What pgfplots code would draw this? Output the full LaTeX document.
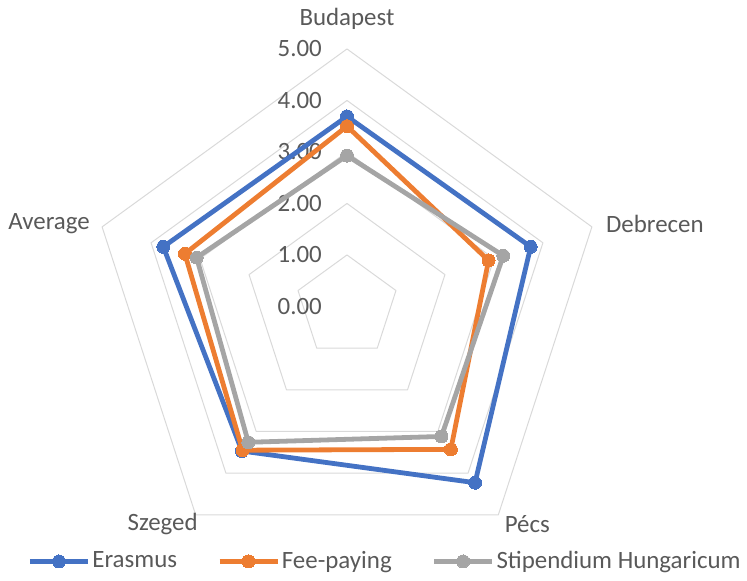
\documentclass[border=0pt]{standalone}
\usepackage{pgfplots}
\pgfplotsset{compat=1.18}
\usepgfplotslibrary{polar}
\usepackage{fontspec}
\setmainfont{Carlito}
\definecolor{eblue}{HTML}{4472C4}
\definecolor{forange}{HTML}{ED7D31}
\definecolor{sgray}{HTML}{A5A5A5}
\definecolor{gridc}{HTML}{D9D9D9}
\definecolor{txt}{HTML}{595959}
\begin{document}
\fontsize{25}{30}\selectfont
\begin{tikzpicture}
\begin{polaraxis}[
  width=515bp, height=515bp, scale only axis,
  ymin=0, ymax=5, xmin=0, xmax=360,
  hide axis, clip=false,
  legend columns=3,
  legend style={at={(axis cs:278.5,5.006)}, anchor=center, draw=none, fill=none,
    text=txt, inner sep=0pt, outer sep=0pt,
    nodes={inner sep=2pt},
    /tikz/every even column/.append style={column sep=38bp}},
  legend image code/.code={\draw[mark repeat=2,mark phase=2] plot coordinates {(0bp,0bp)(29bp,0bp)(58bp,0bp)};},
]
% grid pentagons
\addplot[gridc, line width=1bp, line join=round, forget plot] coordinates {(90,1)(18,1)(306,1)(234,1)(162,1)(90,1)};
\addplot[gridc, line width=1bp, line join=round, forget plot] coordinates {(90,2)(18,2)(306,2)(234,2)(162,2)(90,2)};
\addplot[gridc, line width=1bp, line join=round, forget plot] coordinates {(90,3)(18,3)(306,3)(234,3)(162,3)(90,3)};
\addplot[gridc, line width=1bp, line join=round, forget plot] coordinates {(90,4)(18,4)(306,4)(234,4)(162,4)(90,4)};
\addplot[gridc, line width=1bp, line join=round, forget plot] coordinates {(90,5)(18,5)(306,5)(234,5)(162,5)(90,5)};
% tick labels
\foreach \r/\l in {0/0.00,1/1.00,2/2.00,3/3.00,4/4.00,5/5.00}{
  \edef\temp{\noexpand\node[anchor=east, text=txt, inner sep=0pt, xshift=-25bp] at (axis cs:90,\r) {\l};}
  \temp
}
% category labels
\node[text=txt, yshift=30bp] at (axis cs:90,5) {Budapest};
\node[text=txt, xshift=63bp, yshift=3bp] at (axis cs:18,5) {Debrecen};
\node[text=txt, xshift=29bp, yshift=-9bp] at (axis cs:306,5) {Pécs};
\node[text=txt, xshift=-33bp, yshift=-9bp] at (axis cs:234,5) {Szeged};
\node[text=txt, xshift=-53bp, yshift=3bp] at (axis cs:162,5) {Average};
% data
\addplot[eblue, line width=4.8bp, line join=round, mark=*, mark size=6.5bp, mark options={fill=eblue, draw=eblue, line width=0pt}]
  coordinates {(90,3.69)(18,3.75)(306,4.23)(234,3.47)(162,3.75)(90,3.69)};
\addlegendentry{Erasmus}
\addplot[forange, line width=4.8bp, line join=round, mark=*, mark size=6.5bp, mark options={fill=forange, draw=forange, line width=0pt}]
  coordinates {(90,3.50)(18,2.89)(306,3.43)(234,3.45)(162,3.31)(90,3.50)};
\addlegendentry{Fee-paying}
\addplot[sgray, line width=4.8bp, line join=round, mark=*, mark size=6.5bp, mark options={fill=sgray, draw=sgray, line width=0pt}]
  coordinates {(90,2.93)(18,3.19)(306,3.12)(234,3.26)(162,3.07)(90,2.93)};
\addlegendentry{Stipendium Hungaricum}
\coordinate (c) at (axis cs:0,0);
\end{polaraxis}
\path (c) ++(-347bp,305bp) rectangle ++(747bp,-579bp);
\end{tikzpicture}
\end{document}
